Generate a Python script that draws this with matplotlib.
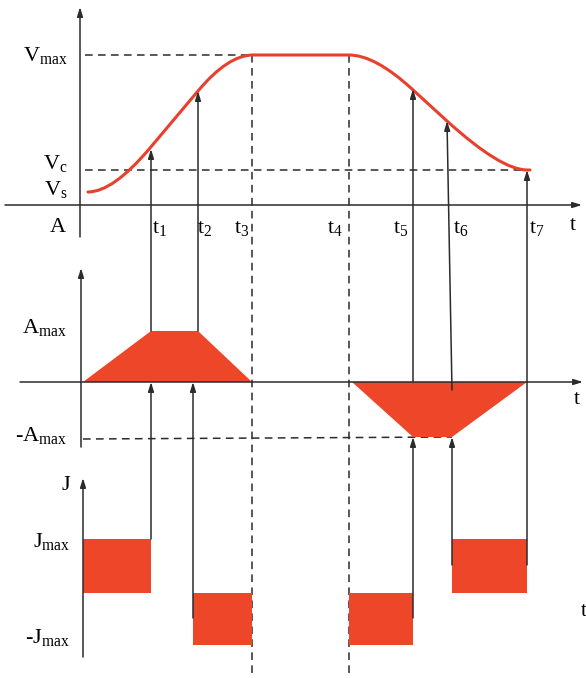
import matplotlib
matplotlib.use("Agg")
import matplotlib.pyplot as plt
from matplotlib.patches import Polygon, Rectangle, PathPatch
from matplotlib.path import Path

plt.rcParams["font.family"] = ["Liberation Serif", "DejaVu Serif"]
plt.rcParams["mathtext.fontset"] = "custom"
plt.rcParams["mathtext.rm"] = "Liberation Serif"
plt.rcParams["mathtext.it"] = "Liberation Serif:italic"

# time marks t0..t7 (horizontal position on the sheet)
t_marks = [83, 151, 198, 252, 349, 413, 449, 527]
t_labels = ["$\\mathrm{t}_1$", "$\\mathrm{t}_2$", "$\\mathrm{t}_3$", "$\\mathrm{t}_4$",
            "$\\mathrm{t}_5$", "$\\mathrm{t}_6$", "$\\mathrm{t}_7$"]

# velocity panel levels
v_axis, v_max, v_c, v_s = 205, 55, 170, 192
# S-curve as quadratic segments: start, (control, end), line, (control, end) ...
vel_pts = [(88, 192), (113, 192), (150, 148), (198, 91), (228, 55), (253, 55),
           (349, 55), (375, 55), (412, 89), (447, 121), (501, 170), (527, 170),
           (530, 170)]
vel_codes = [Path.MOVETO, Path.CURVE3, Path.CURVE3, Path.LINETO, Path.CURVE3, Path.CURVE3,
             Path.LINETO, Path.CURVE3, Path.CURVE3, Path.LINETO, Path.CURVE3, Path.CURVE3,
             Path.LINETO]

# acceleration panel
a_axis, a_max, a_min = 382, 331, 437
acc_up_x = [83, 151, 198, 252]
acc_up_y = [a_axis, a_max, a_max, a_axis]
acc_dn_x = [352, 413, 452, 527]
acc_dn_y = [a_axis, a_min, a_min, a_axis]

# jerk panel: (start, end, level)
j_axis, j_max, j_min = 593, 539, 645
jerk_blocks = [(83, 151, j_max), (193, 252, j_min), (349, 413, j_min), (452, 527, j_max)]

RED = "#EE4628"
CURVE = "#E8402C"
INK = "#2b2b2b"

fig = plt.figure(figsize=(5.86, 6.78), dpi=100)
ax = fig.add_axes([0, 0, 1, 1])
ax.set_xlim(0, 586)
ax.set_ylim(678, 0)
ax.axis("off")


def arrow(x0, y0, x1, y1, lw=1.1):
    ax.annotate("", xy=(x1, y1), xytext=(x0, y0),
                arrowprops=dict(arrowstyle="-|>,head_length=0.55,head_width=0.17",
                                lw=lw, color=INK, shrinkA=0, shrinkB=0))


def dashed(xs, ys):
    ax.plot(xs, ys, color=INK, lw=1.1, dashes=(5, 3.5))


# axes
arrow(80, 237, 80, 7)
arrow(5, v_axis, 582, v_axis)
arrow(81, 447, 81, 268)
arrow(20, a_axis, 583, a_axis)
arrow(83, 657, 83, 478)
arrow(20, j_axis, 592, j_axis)

# dashed guides
dashed([85, t_marks[3]], [v_max, v_max])
dashed([85, t_marks[7]], [v_c, v_c])
dashed([83, 452], [439, a_min])
dashed([t_marks[3], t_marks[3]], [v_max, 678])
dashed([t_marks[4], t_marks[4]], [v_max, 678])

# velocity curve
ax.add_patch(PathPatch(Path(vel_pts, vel_codes), fill=False, edgecolor=CURVE,
                       lw=2.2, capstyle="round", zorder=3))

# acceleration trapezoids
ax.add_patch(Polygon(list(zip(acc_up_x, acc_up_y)), closed=True, color=RED, lw=0, zorder=2))
ax.add_patch(Polygon(list(zip(acc_dn_x, acc_dn_y)), closed=True, color=RED, lw=0, zorder=2))

# jerk blocks
for x0, x1, lev in jerk_blocks:
    ax.add_patch(Rectangle((x0, min(lev, j_axis)), x1 - x0, abs(j_axis - lev),
                           color=RED, lw=0, zorder=2))

# projection arrows
arrow(151, a_max, 151, 149)
arrow(198, a_max, 198, 91)
arrow(413, a_axis, 413, 89)
arrow(452, 390, 447, 121)
arrow(527, 565, 527, 170)
arrow(151, j_max, 151, a_axis)
arrow(193, 618, 193, a_axis)
arrow(413, 618, 413, a_min)
arrow(452, 565, 452, a_min)

# labels
fs = 16
tx = [160, 205, 242, 335, 401, 461, 537]
for x, lab in zip(tx, t_labels):
    ax.text(x, 228, lab, fontsize=fs, ha="center", va="center")
ax.text(573, 226, "t", fontsize=fs, ha="center", va="center")
ax.text(577, 400, "t", fontsize=fs, ha="center", va="center")
ax.text(584, 612, "t", fontsize=fs, ha="center", va="center")
ax.text(58, 228, "A", fontsize=fs, ha="center", va="center")

ax.text(68, 55, "$\\mathrm{V}_{\\mathrm{max}}$", fontsize=fs, ha="right", va="center")
ax.text(68, 163, "$\\mathrm{V}_{\\mathrm{c}}$", fontsize=fs, ha="right", va="center")
ax.text(68, 190, "$\\mathrm{V}_{\\mathrm{s}}$", fontsize=fs, ha="right", va="center")
ax.text(67, 328, "$\\mathrm{A}_{\\mathrm{max}}$", fontsize=fs, ha="right", va="center")
ax.text(67, 436, "-$\\mathrm{A}_{\\mathrm{max}}$", fontsize=fs, ha="right", va="center")
ax.text(66, 486, "J", fontsize=fs, ha="center", va="center")
ax.text(70, 542, "$\\mathrm{J}_{\\mathrm{max}}$", fontsize=fs, ha="right", va="center")
ax.text(70, 638, "-$\\mathrm{J}_{\\mathrm{max}}$", fontsize=fs, ha="right", va="center")

fig.savefig("out.png", dpi=100)
